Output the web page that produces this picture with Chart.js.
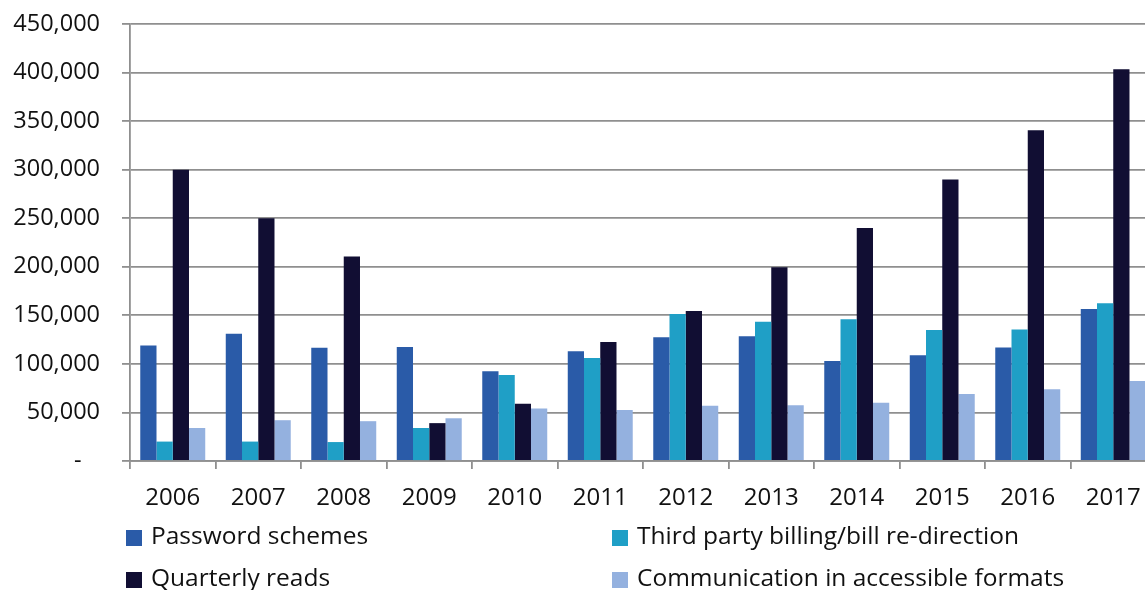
<!DOCTYPE html>
<html>
<head>
<meta charset="utf-8">
<script src="https://cdn.jsdelivr.net/npm/chart.js@4/dist/chart.umd.min.js"></script>
<style>
html,body{margin:0;padding:0;background:#fff;overflow:hidden;width:1145px;height:590px;}
#wrap{position:absolute;left:0;top:0;width:1170px;height:590px;}
</style>
</head>
<body>
<div id="wrap"><canvas id="c" width="1170" height="590"></canvas></div>
<script>
const categories = ['2006','2007','2008','2009','2010','2011','2012','2013','2014','2015','2016','2017'];
const seriesNames = ['Password schemes','Third party billing/bill re-direction','Quarterly reads','Communication in accessible formats'];
const passwordSchemes = [119000,131000,116500,117500,92500,113000,127500,128500,103000,109000,117000,156500];
const thirdPartyBilling = [20000,20000,19500,34000,88500,106000,151500,143500,146000,135000,135500,162500];
const quarterlyReads = [300000,250000,210500,39000,59000,122500,154500,199500,240000,290000,340500,403500];
const accessibleFormats = [34000,42000,41000,44000,54000,52500,57000,57500,60000,69000,74000,82500];
const yTicks = [0,50000,100000,150000,200000,250000,300000,350000,400000,450000];
const colors = ['#2A5BA8','#1F9FC6','#110E33','#94B1DF'];

const FONT = 'Open Sans';
const GRID = '#8f8f8f';
const values = [passwordSchemes, thirdPartyBilling, quarterlyReads, accessibleFormats];

const legendPlugin = {
  id: 'twoColLegend',
  afterDraw(chart) {
    const ctx = chart.ctx;
    const pos = [[126,530],[612,530],[126,572],[612,572]];
    ctx.save();
    ctx.font = '24.5px "' + FONT + '"';
    ctx.textBaseline = 'middle';
    ctx.textAlign = 'left';
    chart.data.datasets.forEach((ds, i) => {
      const [x, y] = pos[i];
      ctx.fillStyle = ds.backgroundColor;
      ctx.fillRect(x, y, 16, 16);
      ctx.fillStyle = '#111';
      ctx.fillText(ds.label, x + 25, y + 7);
    });
    ctx.restore();
  }
};

new Chart(document.getElementById('c'), {
  type: 'bar',
  data: {
    labels: categories,
    datasets: seriesNames.map((n, i) => ({
      label: n,
      data: values[i],
      backgroundColor: colors[i],
      borderWidth: 0,
      categoryPercentage: 0.76,
      barPercentage: 1.0
    }))
  },
  options: {
    responsive: false,
    animation: false,
    devicePixelRatio: 1,
    layout: { padding: { top: 24, right: 14, bottom: 0, left: 0 } },
    plugins: { legend: { display: false }, tooltip: { enabled: false } },
    scales: {
      x: {
        grid: { display: true, drawOnChartArea: false, drawTicks: true, tickLength: 8, color: GRID, lineWidth: 1.8, offset: true },
        border: { display: true, color: GRID, width: 1.8 },
        ticks: { color: '#111', font: { family: FONT, size: 24 }, padding: 15, maxRotation: 0, autoSkip: false },
        afterFit(scale) { scale.height = 129; scale.paddingLeft = 0; scale.paddingRight = 0; }
      },
      y: {
        min: 0, max: 450000,
        afterBuildTicks(scale) { scale.ticks = yTicks.map(v => ({ value: v })); },
        grid: { color: GRID, lineWidth: 1.8, tickLength: 8, drawTicks: true },
        border: { display: true, color: GRID, width: 1.8 },
        ticks: {
          color: '#111', font: { family: FONT, size: 23.5 }, padding: 22,
          callback: (v) => v === 0 ? '-   ' : v.toLocaleString('en-US')
        },
        afterFit(scale) { scale.width = 130; scale.paddingTop = 0; scale.paddingBottom = 0; }
      }
    }
  },
  plugins: [legendPlugin]
});
</script>
</body>
</html>
